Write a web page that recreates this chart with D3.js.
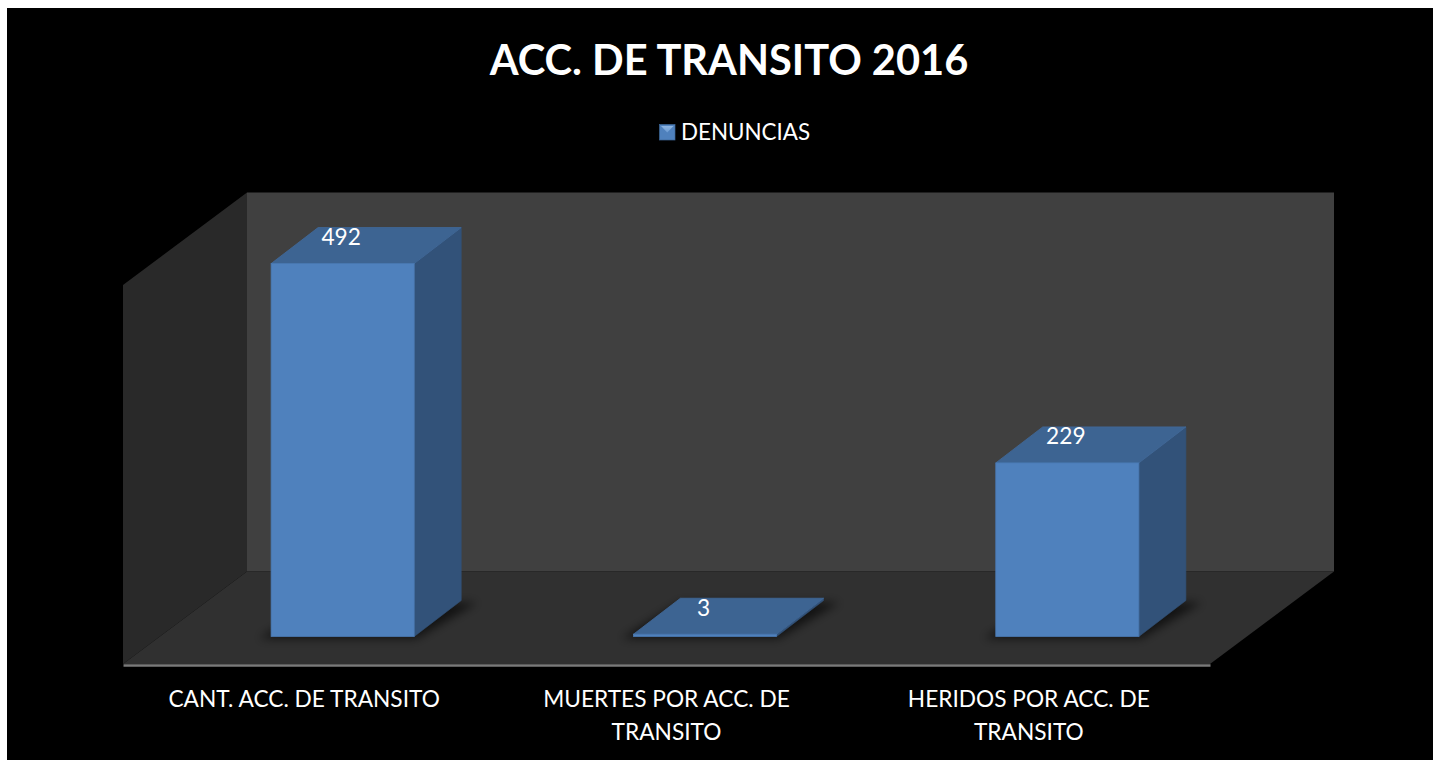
<!DOCTYPE html>
<html><head><meta charset="utf-8">
<script src="https://cdn.jsdelivr.net/npm/d3@7/dist/d3.min.js"></script>
<style>
html,body{margin:0;padding:0;background:#fff;overflow:hidden}
svg{display:block}
text{font-family:Lato,"Open Sans",sans-serif;fill:#fff}
</style></head><body>
<svg id="c" width="1433" height="760"></svg>
<script>
const chartTitle = "ACC. DE TRANSITO 2016";
const seriesName = "DENUNCIAS";
const categories = ["CANT. ACC. DE TRANSITO","MUERTES POR ACC. DE TRANSITO","HERIDOS POR ACC. DE TRANSITO"];
const values = [492,3,229];
const axisMax = 500;

const W=1433,H=760;
const floorL=123, floorR=1210, floorY=664;
const wallDX=124, wallDY=-92.5;
const barShift=[38.5,-27.5], barDepth=[47,-36];
const svg=d3.select("#c");
const defs=svg.append("defs");
defs.append("filter").attr("id","blur").attr("x","-30%").attr("y","-30%").attr("width","160%").attr("height","160%")
  .append("feGaussianBlur").attr("stdDeviation",5);
const sg=defs.append("linearGradient").attr("id","sw").attr("x1",0).attr("y1",0).attr("x2",0).attr("y2",1);
sg.append("stop").attr("offset",0).attr("stop-color","#8fb6e2");
sg.append("stop").attr("offset",1).attr("stop-color","#6a9ad2");

svg.append("rect").attr("x",7).attr("y",8).attr("width",W-7).attr("height",H-8).attr("fill","#000");

const x=d3.scaleBand().domain(categories).range([floorL,floorR]).paddingInner(0.605).paddingOuter(0.3025);
const y=d3.scaleLinear().domain([0,axisMax]).range([0,379]);
const poly=pts=>pts.map(p=>p.join(",")).join(" ");

// walls and floor
const wallTop=floorY-y(axisMax);
svg.append("polygon").attr("fill","#292929").attr("points",poly([[floorL,floorY],[floorL,wallTop],[floorL+wallDX,wallTop+wallDY],[floorL+wallDX,floorY+wallDY]]));
svg.append("polygon").attr("fill","#404040").attr("points",poly([[floorL+wallDX,wallTop+wallDY],[floorR+wallDX,wallTop+wallDY],[floorR+wallDX,floorY+wallDY],[floorL+wallDX,floorY+wallDY]]));
svg.append("polygon").attr("fill","#303030").attr("points",poly([[floorL,floorY],[floorR,floorY],[floorR+wallDX,floorY+wallDY],[floorL+wallDX,floorY+wallDY]]));

// axis
const axisG=svg.append("g").attr("transform",`translate(0,${floorY+1})`).call(d3.axisBottom(x).tickSize(0).tickPadding(22));
axisG.select(".domain").attr("stroke","#7a7a7a").attr("stroke-width",2.4);
axisG.selectAll("text").attr("font-size",22.7).attr("fill","#fff").style("font-family",'Lato,"Open Sans",sans-serif')
 .attr("dy",null).attr("y",0)
 .each(function(){
   const t=d3.select(this),words=t.text().split(" ");
   t.text(null);
   let line=[],n=0,ts=t.append("tspan").attr("x",0).attr("y",42);
   words.forEach(w=>{
     line.push(w);ts.text(line.join(" "));
     if(ts.node().getComputedTextLength()>290){
       line.pop();ts.text(line.join(" "));line=[w];n++;
       ts=t.append("tspan").attr("x",0).attr("y",42+n*33).text(w);
     }
   });
 });

// bars
const g=svg.selectAll(".bar").data(categories.map((c,i)=>({c,v:values[i]}))).enter().append("g").attr("class","bar");
const geom=d=>{
  const x0=x(d.c)+barShift[0], x1=x0+x.bandwidth(), b=floorY+barShift[1], t=b-y(d.v);
  return {x0,x1,b,t,dx:barDepth[0],dy:barDepth[1]};
};
g.append("polygon").attr("filter","url(#blur)").attr("fill","#000").attr("fill-opacity",.62).attr("points",d=>{
  const q=geom(d);
  return poly([[q.x0-12,q.b+2],[q.x1+2,q.b+2],[q.x1+q.dx+16,q.b+q.dy+2],[q.x0+q.dx,q.b+q.dy+2]]);
});
g.append("polygon").attr("fill","#325279").attr("stroke","#325279").attr("stroke-width",.6).attr("points",d=>{
  const q=geom(d);
  return poly([[q.x1,q.b],[q.x1,q.t],[q.x1+q.dx,q.t+q.dy],[q.x1+q.dx,q.b+q.dy]]);
});
g.append("polygon").attr("fill","#3d6492").attr("stroke","#41699b").attr("stroke-width",.8).attr("stroke-linejoin","round").attr("points",d=>{
  const q=geom(d);
  return poly([[q.x0,q.t],[q.x1,q.t],[q.x1+q.dx,q.t+q.dy],[q.x0+q.dx,q.t+q.dy]]);
});
g.append("rect").attr("fill","#4f81bd").attr("stroke","#4a79b2").attr("stroke-width",.8)
  .attr("x",d=>geom(d).x0).attr("y",d=>geom(d).t).attr("width",x.bandwidth()).attr("height",d=>y(d.v));
g.append("text").attr("text-anchor","middle").attr("font-size",22.7)
  .attr("x",d=>geom(d).x0+x.bandwidth()/2-1.5).attr("y",d=>geom(d).t-18.5).text(d=>d.v);

// title
svg.append("text").attr("x",729).attr("y",75).attr("text-anchor","middle").attr("font-size",41.6).attr("font-weight",700).text(chartTitle);

// legend
const lg=svg.append("g").attr("transform","translate(659.5,124.5)");
lg.append("rect").attr("width",15.5).attr("height",15.5).attr("fill","#4f81bd").attr("stroke","#3d6595").attr("stroke-width",.7);
lg.append("polygon").attr("fill","url(#sw)").attr("points",poly([[1.5,1.5],[14,1.5],[7.75,8]]));
lg.append("text").attr("x",21.5).attr("y",15.5).attr("font-size",22.4).text(seriesName);
</script></body></html>
